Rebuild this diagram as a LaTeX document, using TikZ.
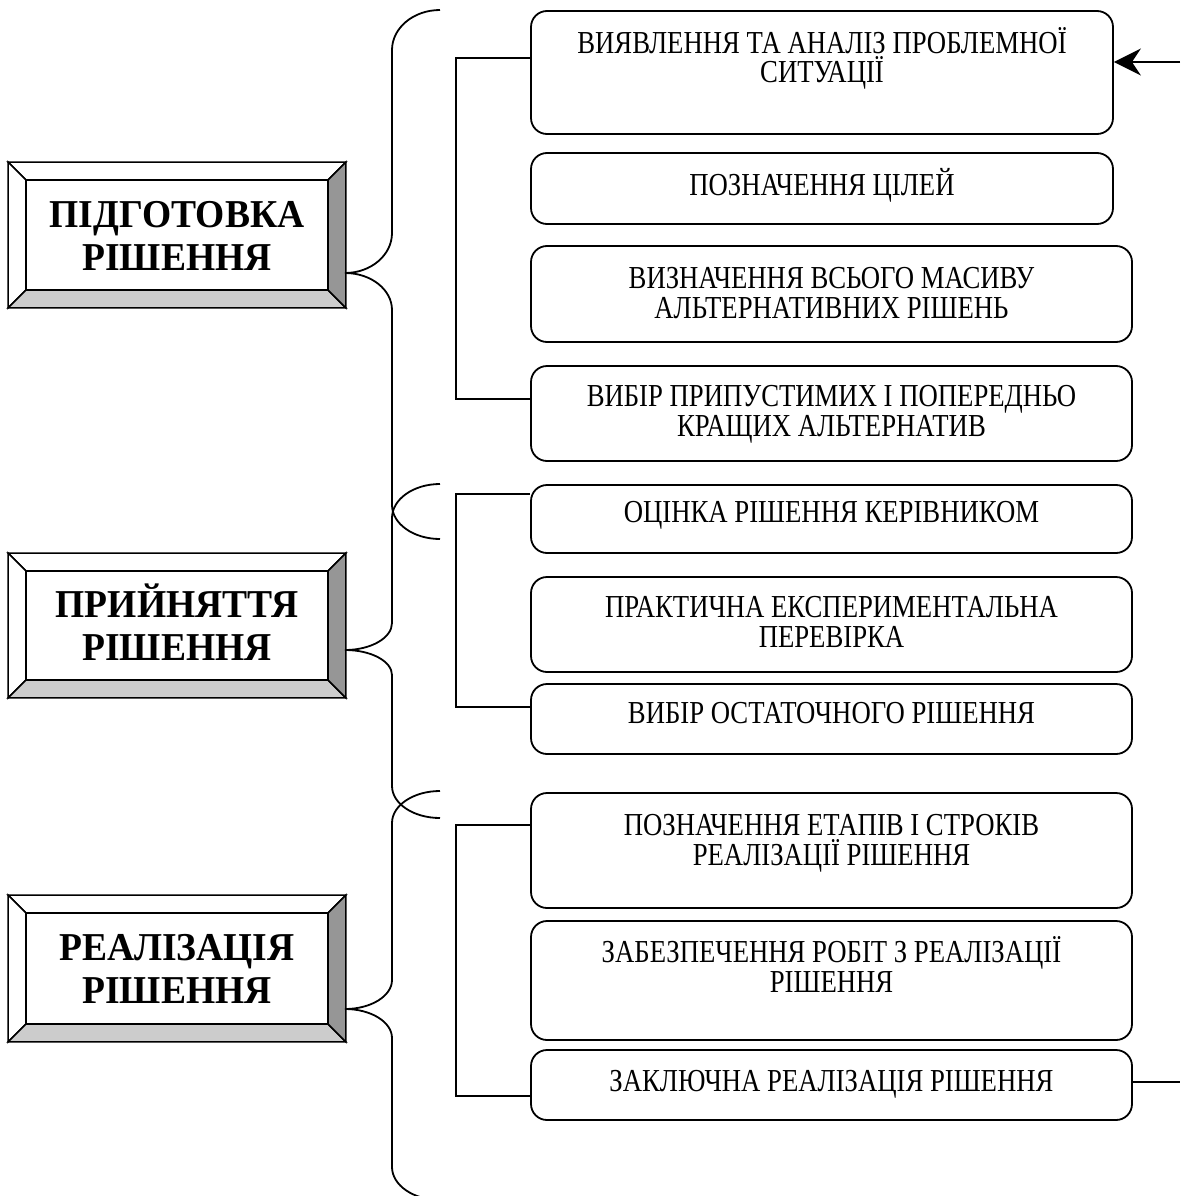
\documentclass[tikz,border=0pt]{standalone}
\usepackage{fontspec}
\setmainfont{Liberation Serif}
\newfontfamily\regf[FakeStretch=0.835]{Liberation Serif}
\newfontfamily\boldf[FakeStretch=0.95]{Liberation Serif}
\usetikzlibrary{arrows.meta,calc}
\definecolor{bevdark}{gray}{0.59}
\definecolor{bevlight}{gray}{0.80}
\newcommand\mybrace[7]{%
  \draw (440,#1) arc[start angle=-90,end angle=-180,x radius=48,y radius=#4]
    -- (392,{#2-#5}) arc[start angle=0,end angle=90,x radius=47,y radius=#5]
    arc[start angle=-90,end angle=0,x radius=47,y radius=#6]
    -- (392,{#3-#7}) arc[start angle=180,end angle=90,x radius=48,y radius=#7];}
\newcommand\mkbevel[1]{%
  \filldraw[fill=white] (#1.north west) -- (#1.north east) -- ($(#1.north east)+(-18,18)$) -- ($(#1.north west)+(18,18)$) -- cycle;
  \filldraw[fill=white] (#1.north west) -- ($(#1.north west)+(18,18)$) -- ($(#1.south west)+(18,-18)$) -- (#1.south west) -- cycle;
  \filldraw[fill=bevlight] (#1.south west) -- ($(#1.south west)+(18,-18)$) -- ($(#1.south east)+(-18,-18)$) -- (#1.south east) -- cycle;
  \filldraw[fill=bevdark] (#1.north east) -- (#1.south east) -- ($(#1.south east)+(-18,-18)$) -- ($(#1.north east)+(-18,18)$) -- cycle;
  \draw ($(#1.north west)+(18,18)$) rectangle ($(#1.south east)+(-18,-18)$);}
\begin{document}
\begin{tikzpicture}[x=1pt,y=-1pt,line width=1.8pt,line join=miter,
  rbox/.style={draw,rounded corners=16pt,inner sep=0pt,minimum height=#1},
  rboxa/.style={rbox=#1,minimum width=582pt},
  rboxb/.style={rbox=#1,minimum width=601pt},
  btxt/.style={font={\regf\fontsize{32}{29.5}\selectfont\lineskiplimit=-100pt},align=center,anchor=north,inner sep=0pt},
  pbox/.style={rectangle,inner sep=0pt,minimum width=336pt,minimum height=#1},
  ptxt/.style={font={\boldf\bfseries\fontsize{39.5}{43}\selectfont\lineskiplimit=-100pt},align=center,anchor=north,inner sep=0pt}]
\useasboundingbox (0,0) rectangle (1180,1196);
\clip (0,0) rectangle (1180,1196);
% phase boxes
\node[pbox=144pt] (pA) at (177,235) {};
\node[pbox=143pt] (pB) at (177,625.5) {};
\node[pbox=145pt] (pC) at (177,968.5) {};
\begin{scope}[line width=1.5pt]
\mkbevel{pA}\mkbevel{pB}\mkbevel{pC}
\end{scope}
\node[ptxt] (tA) at ($(pA.center)+(0,-46.5)$) {\rule{0pt}{38pt}ПІДГОТОВКА\\РІШЕННЯ};
\node[ptxt] (tB) at ($(pB.center)+(0,-46.5)$) {\rule{0pt}{38pt}ПРИЙНЯТТЯ\\РІШЕННЯ};
\node[ptxt] (tC) at ($(pC.center)+(0,-46.5)$) {\rule{0pt}{38pt}РЕАЛІЗАЦІЯ\\РІШЕННЯ};
% braces
\mybrace{10}{273}{539}{40}{40}{37}{34}
\mybrace{484}{650}{818}{34}{27}{25}{32}
\mybrace{791}{1009}{1200}{32}{29}{29}{33}
% step boxes
\node[rboxa=123pt] (b1) at (822,72.5) {};
\node[rboxa=71pt] (b2) at (822,188.5) {};
\node[rboxb=96pt] (b3) at (831.5,294) {};
\node[rboxb=95pt] (b4) at (831.5,413.5) {};
\node[rboxb=68pt] (b5) at (831.5,519) {};
\node[rboxb=95pt] (b6) at (831.5,624.5) {};
\node[rboxb=70pt] (b7) at (831.5,719) {};
\node[rboxb=115pt] (b8) at (831.5,850.5) {};
\node[rboxb=119pt] (b9) at (831.5,980.5) {};
\node[rboxb=70pt] (b10) at (831.5,1085) {};
\node[btxt] (t1) at ($(b1.north)+(0,12.5)$) {\rule{0pt}{30pt}ВИЯВЛЕННЯ ТА АНАЛІЗ ПРОБЛЕМНОЇ\\СИТУАЦІЇ};
\node[btxt] (t2) at ($(b2.north)+(0,12.5)$) {\rule{0pt}{30pt}ПОЗНАЧЕННЯ ЦІЛЕЙ};
\node[btxt] (t3) at ($(b3.north)+(0,12.5)$) {\rule{0pt}{30pt}ВИЗНАЧЕННЯ ВСЬОГО МАСИВУ\\АЛЬТЕРНАТИВНИХ РІШЕНЬ};
\node[btxt] (t4) at ($(b4.north)+(0,10.5)$) {\rule{0pt}{30pt}ВИБІР ПРИПУСТИМИХ І ПОПЕРЕДНЬО\\КРАЩИХ АЛЬТЕРНАТИВ};
\node[btxt] (t5) at ($(b5.north)+(0,7.5)$) {\rule{0pt}{30pt}ОЦІНКА РІШЕННЯ КЕРІВНИКОМ};
\node[btxt] (t6) at ($(b6.north)+(0,10.5)$) {\rule{0pt}{30pt}ПРАКТИЧНА ЕКСПЕРИМЕНТАЛЬНА\\ПЕРЕВІРКА};
\node[btxt] (t7) at ($(b7.north)+(0,9.5)$) {\rule{0pt}{30pt}ВИБІР ОСТАТОЧНОГО РІШЕННЯ};
\node[btxt] (t8) at ($(b8.north)+(0,12.5)$) {\rule{0pt}{30pt}ПОЗНАЧЕННЯ ЕТАПІВ І СТРОКІВ\\РЕАЛІЗАЦІЇ РІШЕННЯ};
\node[btxt] (t9) at ($(b9.north)+(0,11.5)$) {\rule{0pt}{30pt}ЗАБЕЗПЕЧЕННЯ РОБІТ З РЕАЛІЗАЦІЇ\\РІШЕННЯ};
\node[btxt] (t10) at ($(b10.north)+(0,11.5)$) {\rule{0pt}{30pt}ЗАКЛЮЧНА РЕАЛІЗАЦІЯ РІШЕННЯ};
% group connectors
\coordinate (c1) at ($(b1.north west)+(0,48)$);
\coordinate (c4) at ($(b4.north west)+(0,34)$);
\coordinate (g1) at (456,0);
\draw (c1) -| (g1 |- c4) -- (c4);
\coordinate (c5) at ($(b5.north west)+(0,10)$);
\coordinate (c7) at ($(b7.north west)+(0,24)$);
\draw (c5) -| (g1 |- c7) -- (c7);
\coordinate (c8) at ($(b8.north west)+(0,33)$);
\coordinate (c10) at ($(b10.north west)+(0,47)$);
\draw (c8) -| (g1 |- c10) -- (c10);
% input arrow and output line
\coordinate (ain) at (1180,62);
\draw[-{Stealth[length=27pt,width=27pt,inset=9pt]}] (ain) -- (ain -| b1.east);
\coordinate (aout) at (1180,1082);
\draw (b10.east |- aout) -- (aout);
\end{tikzpicture}
\end{document}
